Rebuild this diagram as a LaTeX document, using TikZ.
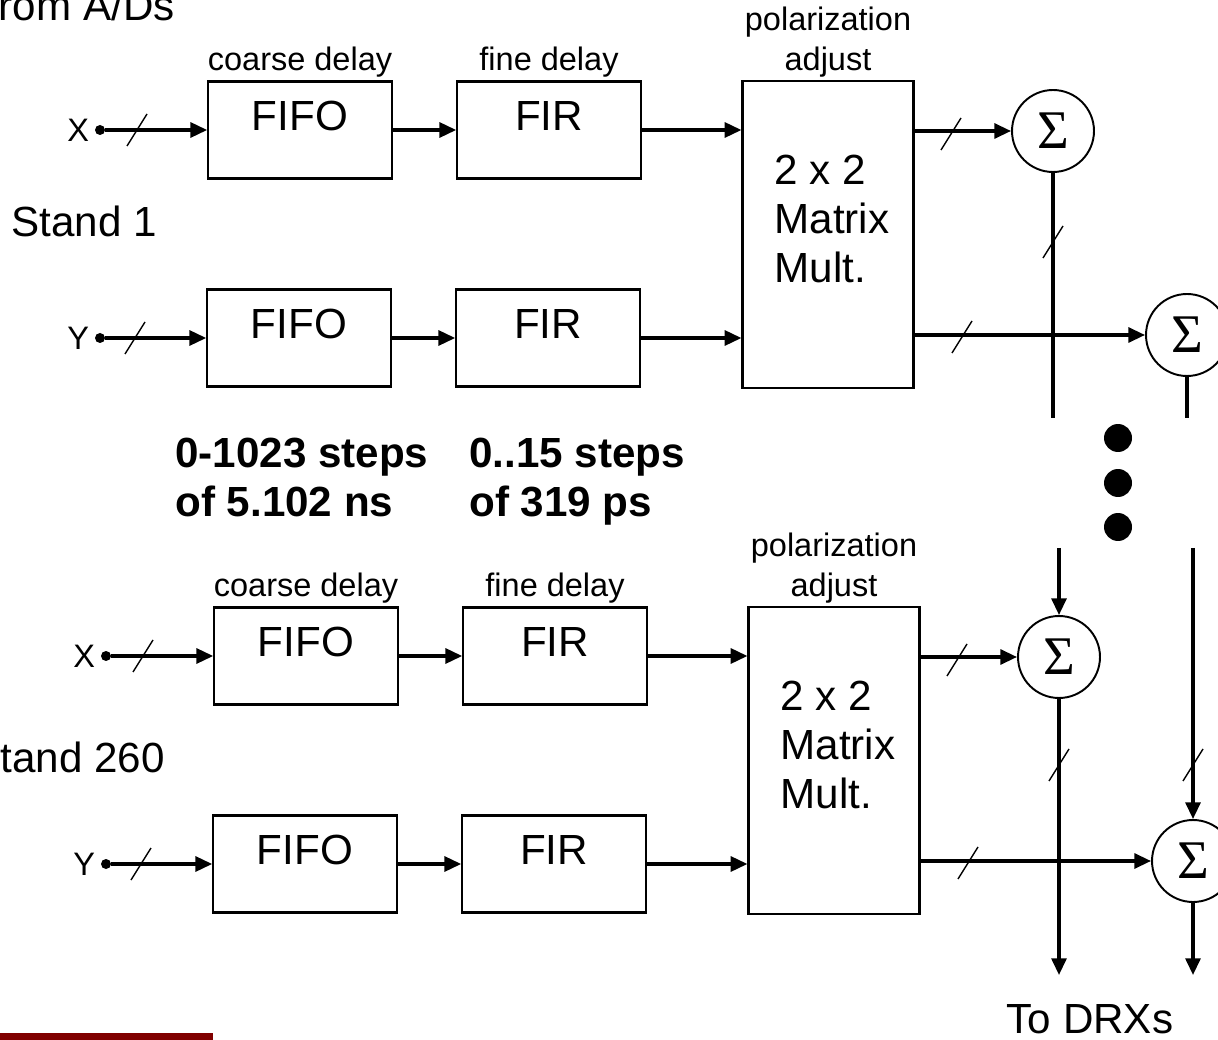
\documentclass[tikz,border=0pt]{standalone}
\usepackage{fontspec}
\setmainfont{Liberation Sans}
\newfontfamily\sigmafont{Liberation Serif}
\usetikzlibrary{arrows.meta}
\definecolor{vtmaroon}{RGB}{128,0,0}

\tikzset{
  big/.style={font=\fontsize{24}{27.8}\selectfont, inner sep=0pt},
  lbl/.style={font=\fontsize{18.5}{22.7}\selectfont, inner sep=1.5pt},
  wire/.style={line width=1.8pt},
  sig/.style={wire, -{Triangle[length=9.5pt,width=8.5pt]}},
  blk/.style={draw, line width=1.25pt, minimum width=3.67cm, minimum height=1.94cm,
    inner sep=0pt, font=\fontsize{24}{28}\selectfont, text height=17pt, text depth=16pt},
  sumnode/.style={draw, circle, line width=1.1pt, minimum size=1.64cm, inner sep=0pt,
    font=\fontsize{31}{31}\sigmafont},
  tapdot/.style={circle, fill, inner sep=0pt, minimum size=0.2cm},
  busmark/.pic={\draw[line width=0.8pt] (-10,16) -- (10,-16);},
}

\begin{document}
\begin{tikzpicture}[x=0.02cm, y=-0.02cm]
  \useasboundingbox (0,0) rectangle (1218,1040);
  \clip (0,0) rectangle (1218,1040);

  \node[big, anchor=base east] (src) at (175,21) {From A/Ds};

  % one block per stand
  \foreach \b/\dx/\dy/\sx/\sy/\stand in {1/0/0/157/221/Stand 1, 2/6/526/165/757/Stand 260} {
    \begin{scope}[shift={(\dx,\dy)}]
      \node[tapdot] (xin\b) at (100,130) {};
      \node[tapdot] (yin\b) at (100,338) {};
      \node[lbl, anchor=east, inner sep=3pt] at (xin\b.west) {X};
      \node[lbl, anchor=east, inner sep=3pt] at (yin\b.west) {Y};

      \node[blk, label={[lbl]above:coarse delay}] (fifoX\b) at (300,130) {FIFO};
      \node[blk, label={[lbl]above:fine delay}] (firX\b) at (549,130) {FIR};
      \node[blk] (fifoY\b) at (299,338) {FIFO};
      \node[blk] (firY\b) at (548,338) {FIR};

      \node[blk, minimum width=3.42cm, minimum height=6.14cm,
        label={[lbl, align=center]above:polarization\\adjust}] (mtx\b) at (828,234.5) {};
      \node[big, align=left] (mtxt\b) at (832,219) {2 x 2\\Matrix\\Mult.};

      \draw[sig] (xin\b) -- (fifoX\b);
      \draw[sig] (yin\b) -- (fifoY\b);
      \pic at (137,130) {busmark};
      \pic at (135,338) {busmark};
      \draw[sig] (fifoX\b) -- (firX\b);
      \draw[sig] (fifoY\b) -- (firY\b);
      \draw[sig] (firX\b) -- (firX\b -| mtx\b.west);
      \draw[sig] (firY\b) -- (firY\b -| mtx\b.west);

      \node[sumnode] (sumX\b) at (1053,131) {Σ};
      \node[sumnode] (sumY\b) at (1187,335) {Σ};
      \draw[sig] (mtx\b.east |- sumX\b) -- (sumX\b);
      \draw[sig] (mtx\b.east |- sumY\b) -- (sumY\b);
      \pic at (951,134) {busmark};
      \pic at (962,337) {busmark};
    \end{scope}
    \node[big, anchor=east] (stand\b) at (\sx,\sy) {\stand};
  }

  % combining paths
  \coordinate (tailX1) at (1053,418);
  \coordinate (tailY1) at (1187,418);
  \draw[wire] (sumX1) -- (tailX1);
  \draw[wire] (sumY1) -- (tailY1);
  \pic at (1053,242) {busmark};

  \coordinate (headX2) at (1059,548);
  \coordinate (headY2) at (1193,548);
  \coordinate (outX2) at (1059,975);
  \coordinate (outY2) at (1193,975);
  \draw[sig] (headX2) -- (sumX2);
  \draw[sig] (headY2) -- (sumY2);
  \draw[sig] (sumX2) -- (outX2);
  \draw[sig] (sumY2) -- (outY2);
  \pic at (1059,765) {busmark};
  \pic at (1193,765) {busmark};

  \foreach \k/\yy in {1/438,2/483,3/527}
    \node[circle, fill, inner sep=0pt, minimum size=0.56cm] (more\k) at (1118,\yy) {};

  \node[big, font=\fontsize{24}{27.8}\selectfont\bfseries, align=left, anchor=north west]
    (coarse) at (175,438) {0-1023 steps\\of 5.102 ns};
  \node[big, font=\fontsize{24}{27.8}\selectfont\bfseries, align=left, anchor=north west]
    (fine) at (469,438) {0..15 steps\\of 319 ps};

  \node[big, anchor=base] (drx) at (1090,1033) {To DRXs};

  \fill[vtmaroon] (0,1033) rectangle (213,1040);
\end{tikzpicture}
\end{document}
